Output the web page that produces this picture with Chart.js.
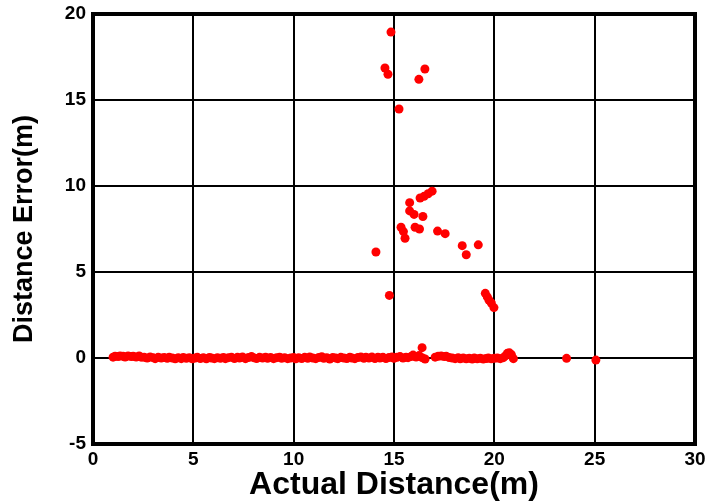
<!DOCTYPE html>
<html>
<head>
<meta charset="utf-8">
<script src="https://cdn.jsdelivr.net/npm/chart.js@4/dist/chart.umd.min.js"></script>
<style>
  html, body { margin: 0; padding: 0; background: #fff; }
  #wrap { width: 707px; height: 502px; }
</style>
</head>
<body>
<div id="wrap"><canvas id="errChart" width="707" height="502"></canvas></div>
<script>
// axis ticks
const xTicks = [0, 5, 10, 15, 20, 25, 30];
const yTicks = [-5, 0, 5, 10, 15, 20];

// points lying on the zero line (actual distance, error)
const baselinePoints = [
  [1.0, 0.05], [1.1, 0.1], [1.25, 0.08], [1.35, 0.12], [1.5, 0.1], [1.6, 0.06], [1.75, 0.12], [1.9, 0.08],
  [2.0, 0.1], [2.15, 0.06], [2.3, 0.12], [2.4, 0.05], [2.55, 0.04], [2.7, 0.0], [2.85, 0.06], [3.0, 0.02],
  [3.1, -0.04], [3.25, 0.04], [3.4, 0.0], [3.55, 0.03], [3.7, -0.02], [3.8, 0.04], [3.95, 0.0], [4.1, -0.05],
  [4.25, 0.02], [4.4, -0.04], [4.5, 0.03], [4.65, -0.02], [4.8, 0.02], [4.95, -0.05], [5.1, 0.0], [5.2, 0.04],
  [5.35, -0.03], [5.5, 0.02], [5.65, -0.05], [5.8, 0.03], [5.9, 0.0], [6.05, -0.04], [6.2, 0.02], [6.35, -0.02],
  [6.5, 0.03], [6.6, -0.04], [6.75, 0.02], [6.9, 0.05], [7.05, -0.03], [7.2, 0.04], [7.3, 0.0], [7.45, 0.06],
  [7.6, -0.04], [7.75, 0.03], [7.9, 0.08], [8.0, 0.02], [8.15, -0.03], [8.3, 0.04], [8.45, 0.0], [8.6, 0.05],
  [8.7, -0.02], [8.85, 0.03], [9.0, -0.04], [9.15, 0.02], [9.3, 0.05], [9.4, -0.02], [9.55, 0.02], [9.7, -0.04],
  [9.85, 0.0], [10.0, 0.03], [10.1, -0.05], [10.25, 0.02], [10.4, -0.03], [10.55, 0.04], [10.7, -0.02], [10.8, 0.06],
  [10.95, 0.0], [11.1, -0.04], [11.25, 0.03], [11.4, 0.07], [11.5, -0.02], [11.65, 0.02], [11.8, -0.06], [11.95, 0.03],
  [12.1, 0.0], [12.2, -0.04], [12.35, 0.04], [12.5, 0.0], [12.65, -0.03], [12.8, 0.05], [12.9, 0.0], [13.05, -0.04],
  [13.2, 0.03], [13.35, 0.06], [13.5, -0.02], [13.6, 0.04], [13.75, 0.0], [13.9, 0.06], [14.05, -0.03], [14.2, 0.05],
  [14.3, 0.0], [14.45, 0.04], [14.6, -0.03], [14.75, 0.03], [14.9, 0.06], [15.0, -0.02], [15.15, 0.04], [15.3, 0.08],
  [15.45, 0.0], [15.6, 0.05], [15.7, 0.02], [15.85, 0.08], [15.95, 0.17], [16.1, 0.06], [16.25, 0.14], [16.4, 0.02],
  [16.55, -0.06], [17.05, 0.05], [17.2, 0.1], [17.35, 0.12], [17.5, 0.08], [17.6, 0.1], [17.75, 0.03], [17.9, 0.0],
  [18.05, -0.04], [18.2, 0.02], [18.3, -0.05], [18.45, 0.0], [18.6, -0.05], [18.75, -0.02], [18.9, -0.06], [19.0, 0.0],
  [19.15, -0.05], [19.3, -0.02], [19.45, -0.06], [19.6, -0.03], [19.7, 0.0], [19.85, -0.05], [20.0, -0.02], [20.15, 0.0],
  [20.3, -0.04], [20.45, 0.02], [20.55, 0.12], [20.65, 0.27], [20.75, 0.3], [20.85, 0.2], [20.95, -0.04],
  [16.4, 0.6], [23.6, -0.02], [25.06, -0.12]
];

// scattered large-error points
const outlierX = [14.85, 14.55, 14.7, 16.54, 16.24, 15.25,
  16.3, 16.5, 16.7, 16.9, 15.78, 15.78, 16.0, 16.44, 16.05, 16.27,
  15.35, 15.47, 15.55, 17.17, 17.55, 18.4, 18.6, 19.2, 14.1, 14.77,
  19.55, 19.65, 19.73, 19.85, 19.98];
const outlierY = [18.95, 16.86, 16.5, 16.8, 16.2, 14.48,
  9.3, 9.4, 9.55, 9.7, 9.03, 8.55, 8.35, 8.23, 7.6, 7.5,
  7.6, 7.35, 6.96, 7.38, 7.23, 6.53, 6.0, 6.58, 6.16, 3.64,
  3.76, 3.55, 3.37, 3.2, 2.93];

const points = baselinePoints.map(p => ({ x: p[0], y: p[1] }))
  .concat(outlierX.map((x, i) => ({ x: x, y: outlierY[i] })));

// thick frame around the plot area
const framePlugin = {
  id: 'frame',
  afterDraw(chart) {
    const a = chart.chartArea;
    const ctx = chart.ctx;
    ctx.save();
    ctx.strokeStyle = '#000';
    ctx.lineWidth = 4;
    ctx.strokeRect(a.left, a.top, a.right - a.left, a.bottom - a.top);
    ctx.restore();
  }
};

const tickFont = { family: '"Liberation Sans", Arial, sans-serif', size: 19, weight: 'bold' };
const xTitleFont = { family: '"Liberation Sans", Arial, sans-serif', size: 32, weight: 'bold', lineHeight: 0.95 };
const yTitleFont = { family: '"Liberation Sans", Arial, sans-serif', size: 27, weight: 'bold', lineHeight: 0.95 };

new Chart(document.getElementById('errChart').getContext('2d'), {
  type: 'scatter',
  data: {
    datasets: [{
      data: points,
      backgroundColor: '#ff0000',
      borderWidth: 0,
      pointRadius: 4.5,
      pointHoverRadius: 4.5
    }]
  },
  options: {
    responsive: false,
    animation: false,
    events: [],
    layout: { padding: { top: 14, right: 12, left: 0, bottom: 0 } },
    plugins: { legend: { display: false }, tooltip: { enabled: false } },
    scales: {
      x: {
        type: 'linear',
        min: 0,
        max: 30,
        afterBuildTicks: scale => { scale.ticks = xTicks.map(v => ({ value: v })); },
        afterFit: scale => {
          scale.height = 58;
          scale.paddingLeft = 0;
          scale.paddingRight = 0;
        },
        grid: { color: '#000', lineWidth: 2, drawTicks: false },
        border: { display: true, color: '#000', width: 4 },
        ticks: { color: '#000', font: tickFont, padding: 4, maxRotation: 0 },
        title: { display: true, text: 'Actual Distance(m)', color: '#000', font: xTitleFont, padding: { top: 0, bottom: 2 } }
      },
      y: {
        type: 'linear',
        min: -5,
        max: 20,
        afterBuildTicks: scale => { scale.ticks = yTicks.map(v => ({ value: v })); },
        afterFit: scale => {
          scale.width = 93;
          scale.paddingTop = 0;
          scale.paddingBottom = 0;
        },
        grid: { color: '#000', lineWidth: 2, drawTicks: false },
        border: { display: true, color: '#000', width: 4 },
        ticks: { color: '#000', font: tickFont, padding: 7 },
        title: { display: true, text: 'Distance Error(m)', color: '#000', font: yTitleFont, padding: { top: 12, bottom: 0 } }
      }
    }
  },
  plugins: [framePlugin]
});
</script>
</body>
</html>
